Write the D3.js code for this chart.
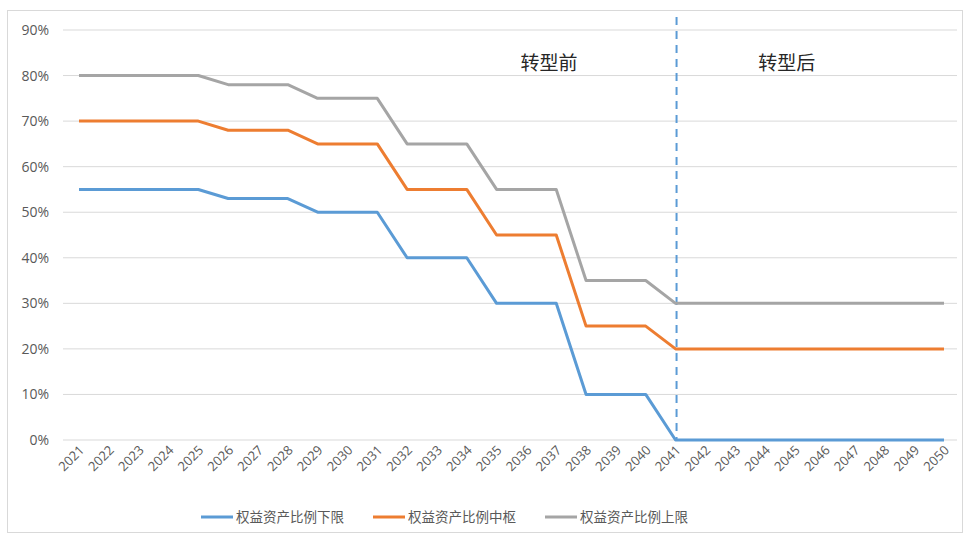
<html>
<head>
  <meta charset="utf-8">
  <script src="https://cdn.jsdelivr.net/npm/d3@7/dist/d3.min.js"></script>
  <style>
    body { margin: 0; background: #fff; }
    text { font-family: "Open Sans", "Noto Sans CJK SC", sans-serif; }
  </style>
</head>
<body>
  <script>
    const years = d3.range(2021, 2051);
    const lower = [55,55,55,55,55, 53,53,53, 50,50,50, 40,40,40, 30,30,30, 10,10,10, 0,0,0,0,0,0,0,0,0,0];
    const middle = [70,70,70,70,70, 68,68,68, 65,65,65, 55,55,55, 45,45,45, 25,25,25, 20,20,20,20,20,20,20,20,20,20];
    const upper = [80,80,80,80,80, 78,78,78, 75,75,75, 65,65,65, 55,55,55, 35,35,35, 30,30,30,30,30,30,30,30,30,30];
    const yTicks = [0,10,20,30,40,50,60,70,80,90];
    const seriesNames = ["权益资产比例下限", "权益资产比例中枢", "权益资产比例上限"];
    const colors = ["#5B9BD5", "#ED7D31", "#A5A5A5"];
    const splitYear = 2041;
    const phases = [{ label: "转型前", year: 2036.76 }, { label: "转型后", year: 2044.73 }];

    const width = 965, height = 535;

    const svg = d3.select("body")
      .append("svg")
      .attr("width", width)
      .attr("height", height);

    svg.append("rect")
      .attr("x", 7.5).attr("y", 10.5)
      .attr("width", 955).attr("height", 522)
      .attr("fill", "#fff")
      .attr("stroke", "#d9d9d9");

    const x = d3.scaleLinear().domain([2021, 2050]).range([79, 944]);
    const y = d3.scaleLinear().domain([0, 90]).range([440, 30]);

    // grid lines
    svg.append("g")
      .selectAll("line")
      .data(yTicks)
      .enter()
      .append("line")
      .attr("x1", 63).attr("x2", 957)
      .attr("y1", d => y(d)).attr("y2", d => y(d))
      .attr("stroke", "#d9d9d9")
      .attr("stroke-width", 1);

    // y labels
    svg.append("g")
      .selectAll("text")
      .data(yTicks)
      .enter()
      .append("text")
      .attr("x", 49)
      .attr("y", d => y(d) + 5)
      .attr("text-anchor", "end")
      .attr("font-size", 14)
      .attr("fill", "#595959")
      .text(d => d + "%");

    // x labels
    svg.append("g")
      .selectAll("text")
      .data(years)
      .enter()
      .append("text")
      .attr("transform", d => `translate(${x(d) + 6},${451}) rotate(-45)`)
      .attr("text-anchor", "end")
      .attr("font-size", 13)
      .attr("fill", "#595959")
      .text(d => d);

    // dashed divider
    svg.append("line")
      .attr("x1", x(splitYear) + 1).attr("x2", x(splitYear) + 1)
      .attr("y1", 17).attr("y2", y(0))
      .attr("stroke", "#5B9BD5")
      .attr("stroke-width", 2)
      .attr("stroke-dasharray", "8,6");

    const line = d3.line()
      .x((d, i) => x(years[i]))
      .y(d => y(d));

    [lower, middle, upper].forEach((s, k) => {
      svg.append("path")
        .datum(s)
        .attr("fill", "none")
        .attr("stroke", colors[k])
        .attr("stroke-width", 3)
        .attr("stroke-linejoin", "round")
        .attr("d", line);
    });

    svg.append("g")
      .selectAll("text")
      .data(phases)
      .enter()
      .append("text")
      .attr("x", d => x(d.year))
      .attr("y", 70)
      .attr("text-anchor", "middle")
      .attr("font-size", 19)
      .attr("fill", "#262626")
      .text(d => d.label);

    // legend
    const legendX = [201, 373, 545];
    const legend = svg.append("g")
      .selectAll("g")
      .data(seriesNames)
      .enter()
      .append("g")
      .attr("transform", (d, i) => `translate(${legendX[i]},517)`);

    legend.append("line")
      .attr("x1", 0).attr("x2", 32)
      .attr("stroke", (d, i) => colors[i])
      .attr("stroke-width", 3);

    legend.append("text")
      .attr("x", 35)
      .attr("y", 5)
      .attr("font-size", 13.5)
      .attr("fill", "#595959")
      .text(d => d);
  </script>
</body>
</html>
